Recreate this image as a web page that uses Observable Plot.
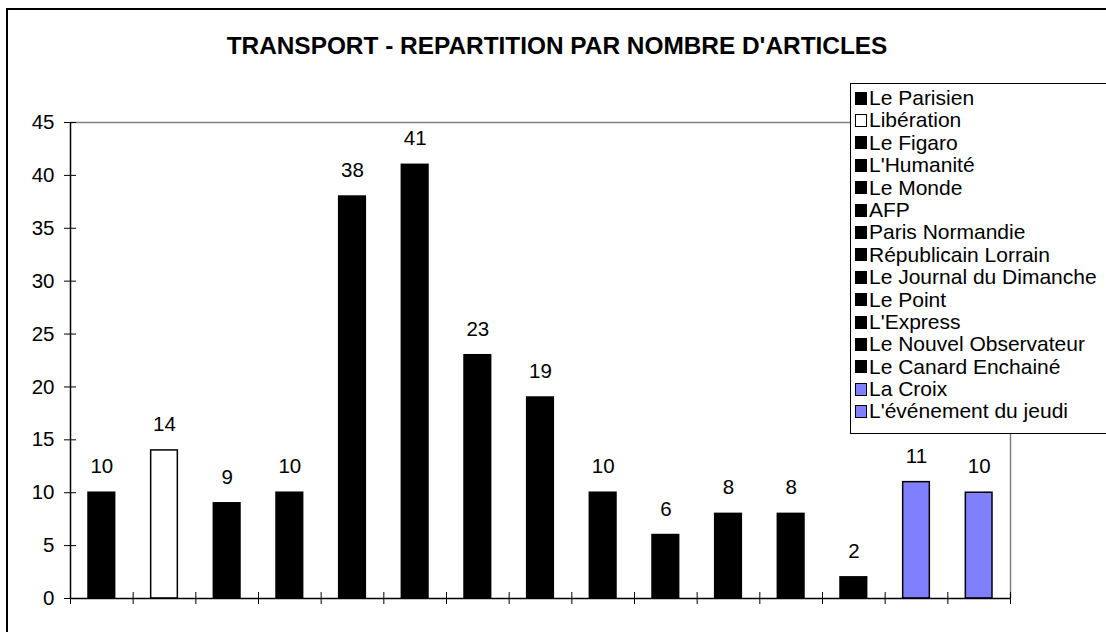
<!DOCTYPE html>
<html>
<head>
<meta charset="utf-8">
<script src="https://cdn.jsdelivr.net/npm/d3@7"></script>
<script src="https://cdn.jsdelivr.net/npm/@observablehq/plot@0.6"></script>
<style>
  html, body { margin: 0; padding: 0; background: #fff; overflow: hidden; width: 1106px; height: 632px; }
  #wrap { position: relative; width: 1106px; height: 632px; font-family: "Liberation Sans", Arial, sans-serif; }
  #frame { position: absolute; left: 6px; top: 8px; width: 1300px; height: 800px; border: 2.5px solid #000; box-sizing: border-box; pointer-events: none; }
  #chart { position: absolute; left: 0; top: 0; }
  #title { position: absolute; left: 157px; width: 800px; top: 32px; text-align: center; font-weight: bold; font-size: 24.4px; line-height: 28px; white-space: nowrap; }
  #legend { position: absolute; left: 850px; top: 83px; width: 300px; height: 351px; border: 1px solid #000; background: #fff; box-sizing: border-box; padding-top: 3px; }
  .row { height: 22.4px; line-height: 22.4px; font-size: 21px; white-space: nowrap; display: flex; align-items: center; }
  .sw { width: 12px; height: 13px; border: 1px solid #000; box-sizing: border-box; margin-left: 4px; margin-right: 2px; flex: none; }
</style>
</head>
<body>
<div id="wrap">
  <div id="chart"></div>
  <div id="title">TRANSPORT - REPARTITION PAR NOMBRE D'ARTICLES</div>
  <div id="legend"></div>
  <div id="frame"></div>
</div>
<script>
const categories = ["Le Parisien", "Libération", "Le Figaro", "L'Humanité", "Le Monde", "AFP", "Paris Normandie", "Républicain Lorrain", "Le Journal du Dimanche", "Le Point", "L'Express", "Le Nouvel Observateur", "Le Canard Enchainé", "La Croix", "L'événement du jeudi"];
const values = [10, 14, 9, 10, 38, 41, 23, 19, 10, 6, 8, 8, 2, 11, 10];
const colors = ["#000000", "#ffffff", "#000000", "#000000", "#000000", "#000000", "#000000", "#000000", "#000000", "#000000", "#000000", "#000000", "#000000", "#8080ff", "#8080ff"];
const yTicks = [0, 5, 10, 15, 20, 25, 30, 35, 40, 45];

const data = categories.map((name, i) => ({ name, index: i, value: values[i], color: colors[i] }));
const xTicks = d3.range(categories.length + 1);

const chart = Plot.plot({
  width: 1106,
  height: 632,
  marginLeft: 70,
  marginRight: 96,
  marginTop: 122,
  marginBottom: 34,
  x: { type: "linear", domain: [0, categories.length], axis: null, label: null },
  y: { domain: [0, 45], axis: null, label: null },
  style: { fontFamily: "'Liberation Sans', Arial, sans-serif", fontSize: "20.5px", background: "transparent", color: "#000" },
  marks: [
    Plot.ruleY([45], { stroke: "#808080", strokeWidth: 1.5 }),
    Plot.ruleX([categories.length], { stroke: "#808080", strokeWidth: 1.5 }),
    Plot.rectY(data, { x1: "index", x2: d => d.index + 1, y1: 0, y2: "value", fill: "color", stroke: "#000", strokeWidth: 1.5, insetLeft: 18, insetRight: 18 }),
    Plot.text(data, { x: d => d.index + 0.5, y: "value", text: d => String(d.value), dy: -26, fontSize: 20.5, fill: "#000" }),
    Plot.ruleY([0], { stroke: "#000", strokeWidth: 1.5 }),
    Plot.ruleX([0], { stroke: "#000", strokeWidth: 1.5 }),
    Plot.axisX(xTicks, { tickSize: 12, dy: -6, tickFormat: () => "", stroke: "#000", label: null }),
    Plot.axisY(yTicks, { tickSize: 12, dx: 6, tickPadding: 10, fontSize: 20.5, stroke: "#000", fill: "#000", label: null })
  ]
});
document.getElementById("chart").appendChild(chart);

const legend = document.getElementById("legend");
categories.forEach((name, i) => {
  const row = document.createElement("div");
  row.className = "row";
  const sw = document.createElement("span");
  sw.className = "sw";
  sw.style.background = colors[i];
  const label = document.createElement("span");
  label.textContent = name;
  row.appendChild(sw);
  row.appendChild(label);
  legend.appendChild(row);
});
</script>
</body>
</html>
